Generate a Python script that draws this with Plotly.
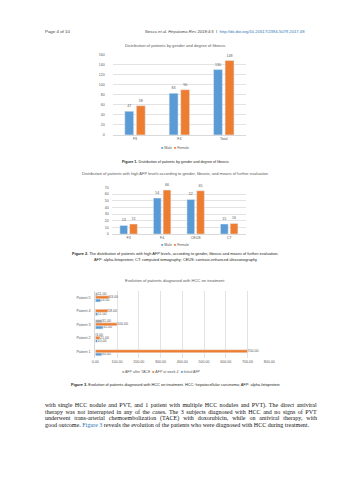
import json
import re
import plotly.graph_objects as go

W, H = 353, 480

# ---------------- data ----------------
header_left = "Page 4 of 10"
header_right = ("Iliescu <i>et al. Hepatoma Res</i> 2018;4:3  I  "
                "<span style='color:#2E74B5'>http://dx.doi.org/10.20517/2394-5079.2017.48</span>")

fib_title = "Distribution of patients by gender and degree of fibrosis"
fib_categories = ["F3", "F4", "Total"]
fib_male = [47, 83, 130]
fib_female = [58, 90, 148]
fib_yticks = [0, 20, 40, 60, 80, 100, 120, 140, 160]
fig1_caption = "<b>Figure 1.</b> Distribution of patients by gender and degree of fibrosis"

afp_title = ("Distribution of patients with high AFP levels according to gender, "
             "fibrosis, and means of further evaluation")
afp_categories = ["F3", "F4", "CEUS", "CT"]
afp_male = [13, 54, 52, 15]
afp_female = [15, 66, 65, 16]
afp_yticks = [0, 10, 20, 30, 40, 50, 60, 70]
fig2_caption = ["<b>Figure 2.</b> The distribution of patients with high AFP levels, according to gender, "
                "fibrosis and means of further evaluation.",
                "AFP: alpha-fetoprotein; CT: computed tomography; CEUS: contrast-enhanced ultrasonography"]

hcc_title = "Evolution of patients diagnosed with HCC on treatment"
patients = ["Patient 1", "Patient 2", "Patient 3", "Patient 4", "Patient 5"]
initial_afp = [30, 10, 35, 11, 24]
afp_week4 = [700, 21, 100, 58, 63]
afp_after_tace = [None, 3, 31, None, 11]
hcc_xticks = [0, 100, 200, 300, 400, 500, 600, 700, 800]
fig3_caption = ("<b>Figure 3.</b> Evolution of patients diagnosed with HCC on treatment. "
                "HCC: hepatocellular carcinoma; AFP: alpha-fetoprotein")

body_lines = [
    "with single HCC nodule and PVT, and 1 patient with multiple HCC nodules and PVT). The direct antiviral",
    "therapy was not interrupted in any of the cases. The 3 subjects diagnosed with HCC and no signs of PVT",
    "underwent trans-arterial chemoembolization (TACE) with doxorubicin, while on antiviral therapy, with",
    "good outcome. <span style='color:#2E74B5'>Figure 3</span> reveals the evolution of the patients "
    "who were diagnosed with HCC during treatment.",
]

# ---------------- style ----------------
BLUE = "#5B9BD5"
ORANGE = "#ED7D31"
GRAY = "#A5A5A5"
TXT = "#595959"
GRID = "#E3E3E3"
SANS = "Liberation Sans"
SERIF = "Liberation Serif"


def px(x):
    return x / W


def py(y):
    return 1 - y / H


fig = go.Figure()

lab = dict(size=3.6, color=TXT, family=SANS)

# chart 1
fig.add_trace(go.Bar(x=fib_categories, y=fib_male, name="Male", marker_color=BLUE,
                     width=0.2, offset=-0.23, text=fib_male, textposition="outside",
                     textfont=lab, cliponaxis=False, constraintext="none",
                     xaxis="x", yaxis="y"))
fig.add_trace(go.Bar(x=fib_categories, y=fib_female, name="Female", marker_color=ORANGE,
                     width=0.2, offset=0.03, text=fib_female, textposition="outside",
                     textfont=lab, cliponaxis=False, constraintext="none",
                     xaxis="x", yaxis="y"))
# chart 2
fig.add_trace(go.Bar(x=afp_categories, y=afp_male, name="Male", marker_color=BLUE,
                     width=0.23, offset=-0.26, text=afp_male, textposition="outside",
                     textfont=lab, cliponaxis=False, constraintext="none",
                     xaxis="x2", yaxis="y2"))
fig.add_trace(go.Bar(x=afp_categories, y=afp_female, name="Female", marker_color=ORANGE,
                     width=0.23, offset=0.03, text=afp_female, textposition="outside",
                     textfont=lab, cliponaxis=False, constraintext="none",
                     xaxis="x2", yaxis="y2"))
# chart 3
for vals, name, col, off in [(initial_afp, "Initial AFP", BLUE, -0.34),
                             (afp_week4, "AFP at week 4", ORANGE, -0.11),
                             (afp_after_tace, "AFP after TACE", GRAY, 0.12)]:
    fig.add_trace(go.Bar(y=patients, x=vals, name=name, orientation="h", marker_color=col,
                         width=0.22, offset=off, texttemplate="%{x:.2f}", textposition="outside",
                         textfont=lab, cliponaxis=False, constraintext="none",
                         xaxis="x3", yaxis="y3"))

tickf = dict(size=3.6, color=TXT, family=SANS)
common_x = dict(showgrid=False, ticks="", tickfont=tickf, showline=True, linecolor="#D9D9D9",
                linewidth=1, fixedrange=True)
common_y = dict(showgrid=True, gridcolor=GRID, gridwidth=1, ticks="", tickfont=tickf,
                zeroline=False, showline=False, fixedrange=True)

fig.update_layout(
    width=W, height=H, margin=dict(l=0, r=0, t=0, b=0),
    paper_bgcolor="white", plot_bgcolor="white", showlegend=False, barmode="overlay",
    xaxis=dict(domain=[px(112), px(249)], anchor="y", type="category", range=[-0.5, 2.5],
               **common_x),
    yaxis=dict(domain=[py(134), py(53)], anchor="x", range=[0, 160], tickvals=fib_yticks,
               ticklabelstandoff=7, **common_y),
    xaxis2=dict(domain=[px(111), px(249)], anchor="y2", type="category", range=[-0.5, 3.5],
                **common_x),
    yaxis2=dict(domain=[py(234), py(187)], anchor="x2", range=[0, 70], tickvals=afp_yticks,
                ticklabelstandoff=2, **common_y),
    xaxis3=dict(domain=[px(94), px(273)], anchor="y3", range=[0, 800], tickvals=hcc_xticks,
                tickformat=".2f", showgrid=True, gridcolor=GRID, ticks="", tickfont=tickf,
                zeroline=False, showline=False, fixedrange=True),
    yaxis3=dict(domain=[py(359), py(291)], anchor="x3", type="category", range=[-0.5, 4.5],
                ticks="", tickfont=tickf, showline=True, linecolor="#D9D9D9", showgrid=False,
                ticklabelstandoff=3, fixedrange=True),
)

ann = []


def text(x, y, s, size=4, color=TXT, family=SANS, xanchor="center", align="center"):
    ann.append(dict(x=px(x), y=py(y), xref="paper", yref="paper", text=s, showarrow=False,
                    xanchor=xanchor, yanchor="middle", align=align,
                    font=dict(size=size, color=color, family=family)))


def legend(x, y, items):
    s = "  ".join(f"<span style='color:{c}'>■</span> {n}" for n, c in items)
    text(x, y, s, size=3.6)


text(40, 30, header_left, size=4.4, color="#404040", xanchor="left")
text(312, 30, header_right, size=4.2, color="#404040", xanchor="right")

text(176, 44, fib_title, size=4.1)
legend(176, 147, [("Male", BLUE), ("Female", ORANGE)])
text(176, 161, fig1_caption, size=3.7, color="#231F20")

text(176, 173, afp_title, size=4.0)
legend(176, 245, [("Male", BLUE), ("Female", ORANGE)])
text(176, 254, fig2_caption[0], size=3.9, color="#231F20")
text(176, 259.5, fig2_caption[1], size=3.9, color="#231F20")

text(176, 281, hcc_title, size=4.1)
legend(162, 373, [("AFP after TACE", GRAY), ("AFP at week 4", ORANGE), ("Initial AFP", BLUE)])
text(176, 386, fig3_caption, size=3.9, color="#231F20")

BODY_LEFT, BODY_WIDTH = 40, 272
for i, line in enumerate(body_lines):
    text(BODY_LEFT, 407 + i * 6.6, line, size=6.0, color="#111111", family=SERIF,
         xanchor="left", align="left")

fig.update_layout(annotations=ann)

# justify the full body lines (all but the paragraph's last line) via word spacing
justify = [re.sub(r"<[^>]+>", "", l) for l in body_lines[:-1]]
post = """
(function(){
  var gd = document.getElementById('{plot_id}');
  var T = %s, target = %f;
  gd.querySelectorAll('text.annotation-text').forEach(function(t){
    var s = t.textContent;
    if (T.indexOf(s) < 0) return;
    var w = t.getBBox().width;
    var n = (s.match(/ /g) || []).length;
    if (n > 0 && w < target) t.style.wordSpacing = ((target - w) / n) + 'px';
  });
})();
""" % (json.dumps(justify), BODY_WIDTH)

fig.write_html("out.html", config={"displayModeBar": False}, post_script=post)
